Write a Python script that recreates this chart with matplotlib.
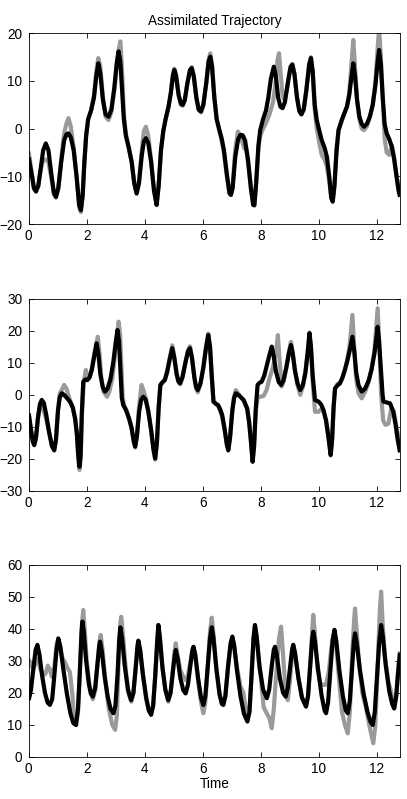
import matplotlib
matplotlib.use("Agg")
import matplotlib.pyplot as plt

# ---------------- data ----------------
# Panel 1 : black (assimilated) and gray (truth)
t_b1 = [0.00,0.10,0.18,0.25,0.33,0.42,0.50,0.59,0.68,0.77,0.87,0.94,1.02,1.12,1.22,1.30,1.37,1.45,1.55,1.65,
        1.74,1.80,1.86,1.92,1.98,2.05,2.15,2.25,2.33,2.40,2.47,2.56,2.65,2.75,2.85,2.95,3.04,3.10,3.16,3.22,
        3.28,3.35,3.45,3.55,3.64,3.72,3.80,3.90,3.97,4.04,4.12,4.22,4.32,4.41,4.48,4.56,4.64,4.72,4.82,4.90,
        4.97,5.02,5.08,5.17,5.25,5.31,5.38,5.47,5.56,5.62,5.69,5.78,5.86,5.94,6.02,6.12,6.20,6.26,6.32,6.40,
        6.48,6.56,6.65,6.73,6.83,6.92,6.97,7.03,7.12,7.22,7.30,7.38,7.46,7.56,7.66,7.74,7.78,7.84,7.92,7.98,
        8.08,8.18,8.26,8.35,8.45,8.52,8.60,8.68,8.75,8.83,8.93,9.03,9.09,9.16,9.25,9.33,9.40,9.48,9.57,9.67,
        9.73,9.79,9.86,9.93,10.02,10.10,10.20,10.28,10.36,10.43,10.48,10.54,10.61,10.68,10.79,10.90,10.97,11.05,11.12,11.19,
        11.25,11.32,11.40,11.48,11.56,11.66,11.76,11.86,11.95,12.03,12.08,12.14,12.20,12.27,12.34,12.43,12.52,12.60,12.68,12.75,12.80]
y_b1 = [-6.0,-9.5,-12.5,-13.2,-12.0,-8.0,-4.5,-3.1,-4.5,-9.0,-13.5,-14.3,-12.5,-7.0,-2.5,-1.2,-1.0,-1.8,-4.5,-10.0,
        -16.0,-17.1,-14.0,-7.0,-1.5,2.0,3.8,6.5,11.0,13.7,11.5,6.0,3.0,2.5,4.0,8.5,14.0,16.2,14.0,8.0,
        2.0,-1.5,-4.0,-7.0,-11.5,-13.6,-11.5,-5.5,-2.7,-2.0,-3.0,-7.0,-13.0,-16.0,-12.0,-4.5,-0.5,2.0,4.6,7.5,
        11.0,12.3,11.0,7.0,5.2,5.0,6.0,9.5,12.3,12.7,11.0,6.5,4.0,3.6,5.0,9.5,14.0,15.1,13.0,6.5,
        2.0,0.0,-2.0,-4.5,-9.5,-13.5,-13.9,-12.5,-6.0,-2.2,-1.3,-1.4,-2.5,-6.5,-12.5,-16.0,-16.0,-11.5,-3.5,-0.3,
        2.0,3.8,6.5,10.5,13.0,11.0,6.5,4.6,4.3,5.5,9.5,13.0,13.4,11.5,6.5,3.7,3.0,4.0,8.0,13.5,
        14.8,12.0,5.0,1.8,-0.5,-2.4,-4.0,-5.9,-10.0,-14.5,-15.3,-12.0,-5.0,-0.3,1.8,3.5,4.6,7.0,10.5,13.7,
        11.0,6.0,2.5,1.0,0.4,1.0,2.5,5.0,9.0,14.0,16.5,13.5,7.0,1.0,-1.0,-2.2,-3.8,-6.5,-10.0,-13.0,-14.3]

t_g1 = [0.00,0.10,0.18,0.25,0.33,0.42,0.50,0.59,0.68,0.77,0.87,0.94,1.02,1.12,1.22,1.30,1.37,1.45,1.55,1.65,
        1.74,1.80,1.86,1.92,1.98,2.05,2.15,2.25,2.33,2.40,2.47,2.56,2.65,2.75,2.85,2.95,3.04,3.10,3.16,3.22,
        3.28,3.35,3.45,3.55,3.64,3.72,3.80,3.90,3.97,4.04,4.12,4.22,4.32,4.41,4.48,4.56,4.64,4.72,4.82,4.90,
        4.97,5.02,5.08,5.17,5.25,5.31,5.38,5.47,5.56,5.62,5.69,5.78,5.86,5.94,6.02,6.12,6.20,6.26,6.32,6.40,
        6.48,6.56,6.65,6.73,6.83,6.92,6.97,7.03,7.12,7.21,7.30,7.43,7.50,7.58,7.66,7.74,7.78,7.84,7.92,7.98,
        8.08,8.18,8.30,8.42,8.52,8.58,8.63,8.68,8.75,8.82,8.90,8.97,9.03,9.09,9.16,9.25,9.33,9.40,9.48,9.57,9.67,
        9.73,9.79,9.86,9.93,10.02,10.10,10.20,10.28,10.36,10.43,10.48,10.54,10.61,10.68,10.79,10.90,10.97,11.05,11.14,11.19,
        11.25,11.32,11.40,11.48,11.56,11.66,11.76,11.86,11.95,12.03,12.08,12.14,12.20,12.27,12.34,12.43,12.52,12.60,12.68,12.75,12.80]
y_g1 = [-4.8,-9.0,-12.5,-13.0,-12.0,-8.5,-6.5,-6.5,-7.0,-10.0,-13.8,-14.5,-12.5,-6.5,-1.0,1.0,2.2,0.5,-4.0,-10.0,
        -16.5,-17.5,-14.0,-7.0,-1.5,2.0,3.8,7.0,12.0,14.8,13.0,6.5,2.5,1.8,3.5,8.0,13.5,16.5,18.3,12.0,
        3.0,-1.0,-4.0,-7.0,-11.5,-13.6,-11.0,-4.5,-0.5,0.4,-1.5,-6.5,-13.0,-16.0,-12.0,-4.5,-0.5,2.0,4.6,7.5,
        11.5,12.6,11.5,7.0,5.0,4.8,6.0,9.5,12.3,12.9,11.0,6.5,4.0,3.4,5.0,9.5,14.5,15.8,13.5,6.5,
        2.0,0.0,-2.5,-5.0,-10.0,-13.5,-13.9,-12.0,-4.5,-0.6,-1.5,-4.1,-4.5,-8.0,-12.5,-16.0,-16.2,-11.5,-4.0,-1.5,
        0.0,1.2,3.0,5.5,10.0,14.5,15.8,12.0,7.0,6.0,8.0,11.0,13.0,13.6,11.5,6.5,3.7,3.0,4.0,8.0,13.5,
        15.0,12.0,4.0,0.0,-3.0,-5.5,-6.5,-8.0,-11.0,-14.5,-15.3,-12.0,-4.0,-0.5,1.5,3.5,4.6,7.5,14.5,18.6,
        13.0,6.0,2.0,0.0,-0.3,0.5,2.5,5.0,9.5,17.0,21.0,15.0,7.0,-2.0,-5.0,-5.5,-3.5,-6.0,-10.0,-12.5,-13.0]

# Panel 2
t_b2 = [0.00,0.08,0.14,0.19,0.25,0.32,0.39,0.45,0.52,0.60,0.70,0.80,0.88,0.94,1.01,1.07,1.14,1.22,1.32,1.42,
        1.52,1.60,1.66,1.71,1.75,1.79,1.83,1.88,1.95,2.02,2.10,2.18,2.26,2.34,2.40,2.47,2.55,2.63,2.72,2.82,
        2.92,3.00,3.06,3.11,3.16,3.21,3.26,3.35,3.46,3.55,3.62,3.67,3.73,3.81,3.88,3.95,4.03,4.12,4.22,4.30,
        4.36,4.42,4.48,4.54,4.62,4.69,4.77,4.87,4.95,5.02,5.10,5.16,5.22,5.30,5.40,5.49,5.56,5.63,5.71,5.77,
        5.83,5.92,6.02,6.11,6.19,6.25,6.31,6.37,6.45,6.53,6.60,6.67,6.76,6.83,6.88,6.94,7.02,7.08,7.14,7.22,
        7.32,7.41,7.53,7.60,7.66,7.72,7.77,7.83,7.89,7.96,8.03,8.12,8.21,8.30,8.38,8.45,8.52,8.62,8.70,8.78,
        8.88,8.97,9.04,9.10,9.18,9.27,9.36,9.45,9.54,9.62,9.68,9.73,9.79,9.87,9.99,10.08,10.16,10.25,10.33,10.41,
        10.46,10.51,10.56,10.65,10.73,10.82,10.90,10.98,11.07,11.16,11.22,11.29,11.37,11.48,11.60,11.72,11.82,11.92,11.98,12.03,
        12.08,12.14,12.20,12.23,12.35,12.46,12.57,12.65,12.72,12.80]
y_b2 = [-5.8,-11.0,-14.5,-15.7,-13.5,-7.0,-2.8,-1.6,-2.5,-6.0,-11.5,-16.0,-17.3,-14.0,-5.0,-0.8,0.5,0.0,-1.0,-2.1,
        -4.0,-7.4,-12.0,-19.0,-22.5,-19.0,-6.0,4.1,4.8,4.6,5.5,8.0,12.0,16.1,13.0,6.5,2.5,1.0,2.0,5.0,
        10.5,16.5,20.3,17.0,8.0,-1.0,-3.2,-4.7,-7.4,-10.5,-14.5,-16.2,-13.0,-5.0,-1.5,-0.6,-1.5,-5.0,-11.0,-17.0,
        -19.9,-15.0,-4.0,3.1,4.0,4.6,7.0,11.5,14.6,11.5,6.5,4.3,3.6,5.5,10.0,13.5,14.6,11.5,5.5,2.5,
        1.5,3.5,8.5,14.5,18.7,15.0,6.0,-2.1,-2.8,-3.2,-4.5,-6.3,-11.0,-15.5,-17.3,-13.5,-5.0,-1.0,0.5,0.0,
        -0.8,-1.6,-4.2,-8.5,-14.5,-20.9,-16.0,-4.0,3.1,3.8,4.1,6.0,9.3,12.5,15.1,12.0,7.5,4.0,3.1,4.5,
        8.5,13.0,15.6,13.0,7.5,3.5,1.5,3.0,7.0,13.5,19.3,15.0,6.0,-1.6,-2.1,-3.0,-4.7,-8.0,-13.0,-18.8,
        -14.0,-4.0,2.0,3.0,3.6,5.5,7.8,10.5,14.0,18.2,14.0,7.0,3.0,1.0,2.0,4.5,8.0,13.0,17.5,21.3,
        16.5,8.0,0.0,-2.1,-2.4,-2.7,-5.3,-9.5,-14.0,-18.0]

t_g2 = [0.00,0.08,0.14,0.19,0.25,0.32,0.39,0.45,0.52,0.60,0.70,0.80,0.88,0.94,1.01,1.07,1.14,1.22,1.30,1.40,
        1.52,1.60,1.66,1.71,1.75,1.79,1.84,1.90,1.97,2.03,2.10,2.18,2.26,2.38,2.44,2.50,2.58,2.70,2.78,2.88,
        2.96,3.04,3.10,3.15,3.20,3.24,3.30,3.38,3.46,3.55,3.62,3.67,3.73,3.80,3.89,3.97,4.05,4.12,4.22,4.30,
        4.36,4.42,4.48,4.54,4.62,4.69,4.77,4.87,4.95,5.02,5.10,5.16,5.22,5.30,5.40,5.49,5.56,5.63,5.71,5.77,
        5.83,5.92,6.02,6.11,6.19,6.25,6.31,6.37,6.45,6.53,6.60,6.67,6.76,6.83,6.88,6.94,7.02,7.08,7.14,7.22,
        7.32,7.41,7.53,7.60,7.66,7.72,7.77,7.83,7.90,8.00,8.10,8.20,8.30,8.40,8.50,8.56,8.59,8.64,8.72,8.80,
        8.88,8.97,9.04,9.10,9.18,9.27,9.36,9.45,9.54,9.62,9.68,9.73,9.79,9.87,9.99,10.08,10.16,10.25,10.33,10.41,
        10.46,10.51,10.56,10.65,10.73,10.82,10.90,10.98,11.07,11.16,11.22,11.29,11.37,11.48,11.60,11.72,11.82,11.92,11.98,12.03,
        12.09,12.15,12.22,12.30,12.40,12.50,12.58,12.65,12.72,12.80]
y_g2 = [-6.0,-11.0,-14.5,-15.8,-13.5,-7.5,-3.5,-3.0,-5.0,-7.5,-11.5,-16.0,-17.5,-14.0,-4.5,0.5,1.5,3.1,2.0,-1.0,
        -4.0,-7.5,-12.5,-20.0,-23.5,-20.0,-5.0,4.0,7.8,5.0,5.5,8.5,13.0,18.2,13.0,5.5,1.0,-0.6,1.0,5.0,
        11.0,18.0,22.9,19.0,8.0,-1.0,-3.5,-5.0,-7.5,-10.5,-14.5,-16.5,-13.0,-4.0,3.1,1.0,-1.5,-5.0,-11.0,-17.0,
        -20.3,-15.0,-4.0,3.1,4.0,4.6,7.5,12.0,15.5,12.0,6.5,4.0,3.3,5.5,10.0,14.0,15.2,11.5,5.5,2.0,
        0.8,3.5,8.5,15.0,19.2,15.5,6.0,-2.1,-2.8,-3.5,-5.0,-7.0,-11.5,-15.5,-17.5,-13.5,-4.5,-0.5,1.5,0.5,
        -0.8,-1.8,-4.5,-9.0,-14.5,-21.0,-16.0,-5.0,-0.5,-0.6,-0.3,1.5,5.2,8.0,12.0,16.0,18.7,12.0,2.6,4.5,
        8.5,13.5,16.6,13.5,7.5,3.0,0.0,2.5,7.0,13.5,19.5,15.0,4.0,-5.3,-5.3,-4.5,-5.0,-8.0,-13.0,-19.0,
        -14.0,-4.0,2.0,3.5,3.6,5.5,7.8,11.0,16.0,25.0,15.0,5.0,0.5,-1.1,1.0,4.0,8.0,14.0,21.0,27.1,
        15.0,0.0,-8.0,-9.4,-9.0,-4.2,-5.0,-8.5,-12.0,-14.6]

# Panel 3
t_b3 = [0.00,0.08,0.16,0.24,0.30,0.37,0.46,0.56,0.65,0.73,0.81,0.88,0.96,1.02,1.09,1.20,1.32,1.44,1.54,1.63,
        1.70,1.77,1.82,1.85,1.90,1.98,2.07,2.14,2.21,2.29,2.37,2.43,2.46,2.52,2.62,2.72,2.82,2.92,2.99,3.06,
        3.12,3.16,3.22,3.31,3.42,3.53,3.61,3.69,3.75,3.78,3.84,3.94,4.05,4.14,4.22,4.29,4.36,4.43,4.47,4.52,
        4.61,4.71,4.81,4.89,4.97,5.03,5.07,5.13,5.23,5.33,5.41,5.49,5.58,5.64,5.68,5.74,5.84,5.94,6.02,6.09,
        6.17,6.25,6.31,6.37,6.47,6.58,6.66,6.71,6.78,6.87,6.96,7.02,7.08,7.18,7.30,7.42,7.54,7.61,7.68,7.75,
        7.80,7.86,7.96,8.08,8.21,8.29,8.38,8.45,8.49,8.55,8.66,8.77,8.86,8.93,9.01,9.08,9.12,9.18,9.30,9.42,
        9.56,9.63,9.71,9.77,9.81,9.87,9.98,10.10,10.20,10.25,10.32,10.40,10.48,10.54,10.60,10.71,10.83,10.93,11.00,11.07,
        11.14,11.21,11.25,11.31,11.42,11.55,11.68,11.78,11.86,11.93,12.00,12.08,12.15,12.21,12.31,12.43,12.53,12.60,12.67,12.73,12.80]
y_b3 = [17.7,21.0,27.5,33.5,35.0,32.0,25.5,20.0,17.0,16.2,18.0,25.0,33.5,37.0,34.5,27.0,19.5,13.5,10.5,9.9,
        15.0,28.0,38.5,42.3,39.0,30.0,23.0,19.8,18.8,21.5,29.0,34.5,36.0,33.0,25.0,19.0,15.0,13.6,16.0,25.5,
        36.5,40.5,37.0,28.5,21.0,17.7,20.0,28.0,34.5,36.3,33.5,25.5,18.5,14.5,13.1,16.0,25.0,36.0,41.2,37.5,
        28.0,21.0,17.7,20.0,26.5,31.5,33.4,31.0,24.5,20.8,19.8,22.5,29.0,33.0,34.4,32.0,24.5,18.5,16.2,19.0,
        28.0,37.0,40.5,37.0,27.5,19.5,16.5,16.2,19.0,28.0,35.5,37.6,35.0,27.0,19.0,13.5,11.0,14.0,25.0,37.0,
        41.2,37.5,28.0,21.0,18.3,21.0,28.5,33.5,34.4,32.0,24.5,20.0,18.8,21.5,28.0,33.5,35.0,32.5,24.5,18.5,
        15.7,19.0,29.0,36.5,39.1,36.0,27.0,19.0,14.5,13.6,17.0,27.0,36.5,39.7,36.5,27.0,19.0,14.5,13.6,17.5,
        27.0,36.0,38.6,35.5,27.0,19.5,14.0,11.0,9.9,14.0,24.0,35.5,41.2,37.5,28.5,20.5,16.5,15.1,19.0,26.0,32.5]

t_g3 = [0.00,0.10,0.17,0.25,0.32,0.40,0.50,0.58,0.66,0.72,0.80,0.88,0.96,1.02,1.09,1.16,1.25,1.35,1.42,1.50,
        1.57,1.63,1.70,1.77,1.83,1.88,1.93,2.00,2.10,2.21,2.30,2.38,2.44,2.48,2.54,2.64,2.76,2.88,2.98,3.04,
        3.10,3.16,3.19,3.25,3.35,3.45,3.54,3.61,3.69,3.75,3.78,3.84,3.94,4.05,4.14,4.22,4.29,4.36,4.43,4.47,
        4.52,4.61,4.71,4.81,4.89,4.97,5.03,5.07,5.13,5.23,5.33,5.41,5.49,5.58,5.64,5.68,5.74,5.84,5.94,6.02,
        6.09,6.17,6.25,6.31,6.37,6.47,6.58,6.66,6.71,6.78,6.87,6.96,7.02,7.08,7.18,7.30,7.40,7.48,7.54,7.61,
        7.68,7.75,7.80,7.86,7.93,8.00,8.10,8.21,8.30,8.38,8.45,8.55,8.63,8.70,8.76,8.86,8.93,9.01,9.08,9.12,
        9.18,9.30,9.42,9.56,9.63,9.71,9.77,9.81,9.87,9.95,10.05,10.15,10.25,10.35,10.43,10.48,10.54,10.60,10.70,10.80,
        10.90,11.00,11.07,11.15,11.22,11.25,11.30,11.38,11.50,11.62,11.76,11.88,11.95,12.03,12.10,12.15,12.20,12.28,12.40,12.50,
        12.60,12.67,12.73,12.80]
y_g3 = [30.5,28.5,27.5,30.0,30.5,27.5,25.5,26.0,28.5,27.5,25.0,28.0,35.0,37.0,34.0,31.0,29.5,27.5,26.5,20.0,
        12.0,10.0,14.0,28.0,41.0,45.9,40.0,30.0,22.0,18.0,21.0,30.0,36.0,38.1,34.0,24.0,15.0,10.0,8.4,13.0,
        30.0,42.0,43.8,38.0,27.0,19.5,17.2,20.0,28.0,34.5,36.3,33.5,25.5,18.0,14.5,13.6,16.0,25.0,36.0,41.2,
        37.5,28.0,21.0,17.2,20.0,27.0,33.0,35.5,32.0,27.0,25.0,24.0,25.5,30.0,33.5,34.4,32.0,24.0,17.0,13.6,
        17.0,28.0,39.0,43.5,38.5,27.5,19.5,16.8,16.7,19.0,28.0,35.0,37.0,35.0,28.0,22.0,20.0,15.0,12.5,14.0,
        25.0,37.0,41.2,37.0,30.0,25.0,15.5,13.5,12.0,8.9,15.0,28.0,37.0,40.7,33.0,20.0,17.7,24.0,32.0,35.0,
        32.5,24.5,18.5,15.7,19.0,30.0,39.0,44.4,38.0,28.0,23.0,22.5,22.5,27.0,34.0,37.0,39.0,35.0,24.0,14.0,
        10.0,7.3,14.0,32.0,43.0,46.4,40.0,30.3,20.0,15.7,9.0,4.2,10.0,28.0,45.0,51.7,42.0,31.3,23.5,20.0,
        15.1,19.0,26.0,33.0]

xticks = [0, 2, 4, 6, 8, 10, 12]
yticks1 = [-20, -10, 0, 10, 20]
yticks2 = [-30, -20, -10, 0, 10, 20, 30]
yticks3 = [0, 10, 20, 30, 40, 50, 60]

# ---------------- figure ----------------
plt.rcParams['font.family'] = ['Liberation Sans', 'DejaVu Sans']
FS = 9.8
plt.rcParams['font.size'] = FS

W, H = 407, 799
fig = plt.figure(figsize=(W / 100, H / 100), dpi=100)

left = 28.7 / W
width = (400 - 28.7) / W
boxes = [(33.3, 224.0), (299.0, 490.7), (565.0, 756.7)]

panels = [
    (t_g1, y_g1, t_b1, y_b1, yticks1),
    (t_g2, y_g2, t_b2, y_b2, yticks2),
    (t_g3, y_g3, t_b3, y_b3, yticks3),
]

gray = '#9a9a9a'
axes = []
for (top, bot), (tg, yg, tb, yb, yt) in zip(boxes, panels):
    ax = fig.add_axes([left, 1 - bot / H, width, (bot - top) / H])
    ax.plot(tg, yg, color=gray, lw=3.0, solid_joinstyle='round', solid_capstyle='butt')
    ax.plot(tb, yb, color='black', lw=3.0, solid_joinstyle='round', solid_capstyle='butt')
    ax.set_xlim(0, 12.8)
    ax.set_ylim(yt[0], yt[-1])
    ax.set_xticks(xticks)
    ax.set_yticks(yt)
    ax.tick_params(direction='in', top=True, right=True, length=3.5, width=0.6,
                   labelsize=FS)
    ax.tick_params(axis='y', pad=4.5)
    ax.tick_params(axis='x', pad=3.5)
    for s in ax.spines.values():
        s.set_linewidth(0.6)
    axes.append(ax)

axes[0].set_title('Assimilated Trajectory', fontsize=FS, pad=6)
axes[2].set_xlabel('Time', fontsize=FS, labelpad=1)

fig.savefig('out.png', dpi=100)
